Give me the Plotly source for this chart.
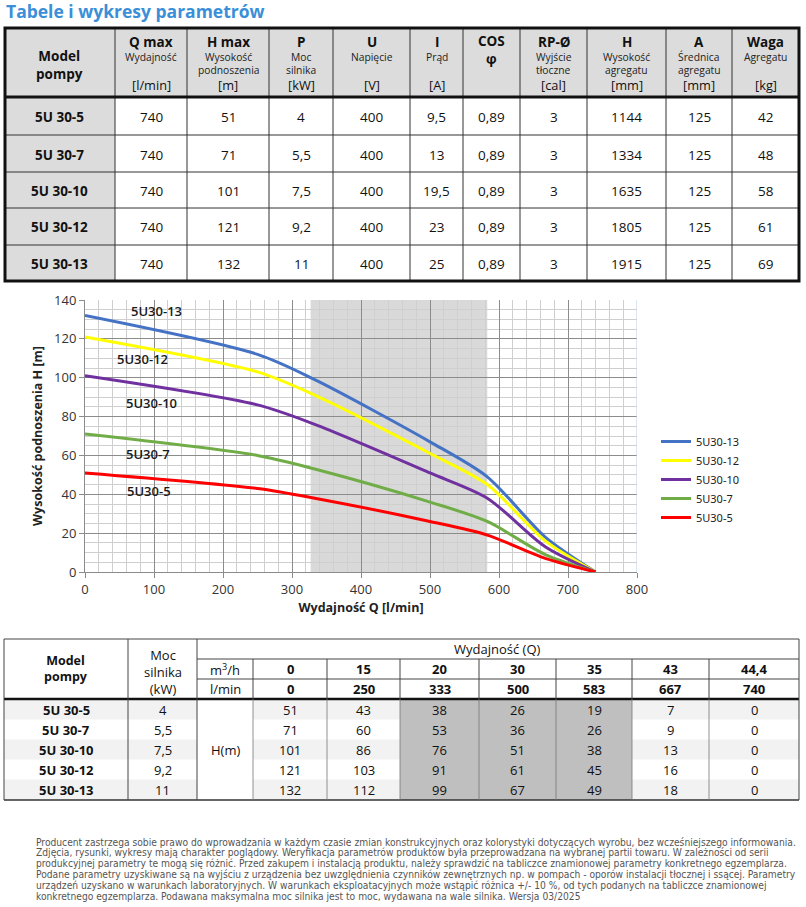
import plotly.graph_objects as go

W, H = 806, 907

# ---------------- data ----------------
title_text = "Tabele i wykresy parametrów"

models = ["5U 30-5", "5U 30-7", "5U 30-10", "5U 30-12", "5U 30-13"]
q_max = ["740", "740", "740", "740", "740"]
h_max = ["51", "71", "101", "121", "132"]
power = ["4", "5,5", "7,5", "9,2", "11"]
voltage = ["400", "400", "400", "400", "400"]
current = ["9,5", "13", "19,5", "23", "25"]
cos_phi = ["0,89", "0,89", "0,89", "0,89", "0,89"]
outlet = ["3", "3", "3", "3", "3"]
unit_height = ["1144", "1334", "1635", "1805", "1915"]
diameter = ["125", "125", "125", "125", "125"]
weight = ["42", "48", "58", "61", "69"]

header_titles = ["", "Q max", "H max", "P", "U", "I", "COS", "RP-Ø", "H", "A", "Waga"]
header_subs = [[], ["Wydajność"], ["Wysokość", "podnoszenia"], ["Moc", "silnika"], ["Napięcie"],
               ["Prąd"], [], ["Wyjście", "tłoczne"], ["Wysokość", "agregatu"],
               ["Średnica", "agregatu"], ["Agregatu"]]
header_units = ["", "[l/min]", "[m]", "[kW]", "[V]", "[A]", "", "[cal]", "[mm]", "[mm]", "[kg]"]

flow_m3h = ["0", "15", "20", "30", "35", "43", "44,4"]
flow_lmin = [0, 250, 333, 500, 583, 667, 740]
head_5 = [51, 43, 38, 26, 19, 7, 0]
head_7 = [71, 60, 53, 36, 26, 9, 0]
head_10 = [101, 86, 76, 51, 38, 13, 0]
head_12 = [121, 103, 91, 61, 45, 16, 0]
head_13 = [132, 112, 99, 67, 49, 18, 0]
shaded_cols = [2, 3, 4]

series_names = ["5U30-13", "5U30-12", "5U30-10", "5U30-7", "5U30-5"]
series_heads = [head_13, head_12, head_10, head_7, head_5]
series_colors = ["#4472c4", "#ffff00", "#7030a0", "#70ad47", "#ff0000"]
label_pos = [(104, 134.5), (84, 109.6), (97, 87.1), (92, 60.7), (93, 41.8)]
band_q = [327, 583]

footer_lines = [
    "Producent zastrzega sobie prawo do wprowadzania w każdym czasie zmian konstrukcyjnych oraz kolorystyki dotyczących wyrobu, bez wcześniejszego informowania.",
    "Zdjęcia, rysunki, wykresy mają charakter poglądowy. Weryfikacja parametrów produktów była przeprowadzana na wybranej partii towaru. W zależności od serii",
    "produkcyjnej parametry te mogą się różnić. Przed zakupem i instalacją produktu, należy sprawdzić na tabliczce znamionowej parametry konkretnego egzemplarza.",
    "Podane parametry uzyskiwane są na wyjściu z urządzenia bez uwzględnienia czynników zewnętrznych np. w pompach - oporów instalacji tłocznej i ssącej. Parametry",
    "urządzeń uzyskano w warunkach laboratoryjnych. W warunkach eksploatacyjnych może wstąpić różnica +/- 10 %, od tych podanych na tabliczce znamionowej",
    "konkretnego egzemplarza. Podawana maksymalna moc silnika jest to moc, wydawana na wale silnika. Wersja 03/2025",
]

# ---------------- helpers ----------------
FONT = "Open Sans"
shapes = []
annots = []


def X(px):
    return px / W


def Y(py):
    return 1 - py / H


def rect(x0, y0, x1, y1, fill, lw=0, lc="rgba(0,0,0,0)"):
    shapes.append(dict(type="rect", xref="paper", yref="paper", x0=X(x0), x1=X(x1),
                       y0=Y(y0), y1=Y(y1), fillcolor=fill, line=dict(width=lw, color=lc),
                       layer="below"))


def line(x0, y0, x1, y1, w=1, c="#333"):
    shapes.append(dict(type="line", xref="paper", yref="paper", x0=X(x0), x1=X(x1),
                       y0=Y(y0), y1=Y(y1), line=dict(width=w, color=c)))


def text(x, y, s, size=13, color="#111", xanchor="center", family=FONT, bold=False, wt=None):
    if bold:
        s = "<b>" + s.replace("<br>", "</b><br><b>") + "</b>"
    f = dict(size=size, color=color, family=family)
    if wt:
        f["weight"] = wt
    annots.append(dict(xref="paper", yref="paper", x=X(x), y=Y(y), text=s, showarrow=False,
                       xanchor=xanchor, yanchor="middle", align="center", font=f))


# ---------------- title ----------------
text(4, 11, title_text, size=17.5, color="#3b8fd8", xanchor="left", bold=True)

# ---------------- top table ----------------
tcols = [5, 115, 187, 269, 333, 410, 463, 520, 587, 666, 732, 799]
t_top, t_head, t_bot = 28, 97, 281
trows = [97, 135, 172, 208, 245, 281]

rect(tcols[0], t_top, tcols[-1], t_head, "#dcdcdc")
rect(tcols[0], t_head, tcols[1], t_bot, "#dcdcdc")
for xc in tcols[1:-1]:
    line(xc, t_top, xc, t_bot, 1, "#333")
for yr in trows[1:-1]:
    line(tcols[0], yr, tcols[-1], yr, 1, "#333")
line(tcols[0], t_head, tcols[-1], t_head, 3, "#111")
shapes.append(dict(type="rect", xref="paper", yref="paper", x0=X(tcols[0]), x1=X(tcols[-1]),
                   y0=Y(t_top), y1=Y(t_bot), line=dict(width=3, color="#111")))

text((tcols[0] + tcols[1]) / 2, 64.5, "Model<br>pompy", size=13.5, bold=True)
for i in range(1, len(tcols) - 1):
    cx = (tcols[i] + tcols[i + 1]) / 2
    if header_titles[i] == "COS":
        text(cx, 50, "COS<br>φ", size=13.5, bold=True)
        continue
    text(cx, 42, header_titles[i], size=13.5, bold=True)
    subs = header_subs[i]
    if len(subs) == 1:
        text(cx, 57, subs[0], size=10.3, color="#222")
    elif len(subs) == 2:
        text(cx, 57, subs[0], size=10.3, color="#222")
        text(cx, 70.5, subs[1], size=10.3, color="#222")
    if header_units[i]:
        text(cx, 85.5, header_units[i], size=12.8, color="#111")

top_columns = [models, q_max, h_max, power, voltage, current, cos_phi, outlet,
               unit_height, diameter, weight]
for r in range(len(models)):
    cy = (trows[r] + trows[r + 1]) / 2 + 1
    for c, col in enumerate(top_columns):
        cx = (tcols[c] + tcols[c + 1]) / 2
        if c == 0:
            text(cx, cy, col[r], size=13.5, bold=True, color="#111")
        else:
            text(cx, cy, col[r], size=13.5, color="#111", wt=500)

# ---------------- chart ----------------
fig = go.Figure()
shapes.append(dict(type="rect", xref="x", yref="y", x0=band_q[0], x1=band_q[1], y0=0, y1=140,
                   fillcolor="#d9d9d9", line=dict(width=0), layer="below"))
shapes.append(dict(type="line", xref="x", yref="y", x0=800, x1=800, y0=0, y1=140,
                   line=dict(width=1, color="#b8cce4")))

for name, ys, col in zip(series_names, series_heads, series_colors):
    fig.add_trace(go.Scatter(x=flow_lmin, y=ys, mode="lines", name=name,
                             line=dict(color=col, width=3, shape="spline", smoothing=0.8)))

for name, (lx, ly) in zip(series_names, label_pos):
    annots.append(dict(xref="x", yref="y", x=lx, y=ly, text=name, showarrow=False,
                       xanchor="center", yanchor="middle",
                       font=dict(size=13, color="#1a1a1a", family=FONT, weight=600)))

# ---------------- bottom table ----------------
bcols = [4, 128, 197, 253, 327, 400, 479, 556, 632, 709, 799]
bh = [639, 659, 679, 699]
brows = [699, 719.5, 739.5, 759.5, 779.5, 800]

for r in range(5):
    y0, y1 = brows[r], brows[r + 1]
    if r % 2 == 0:
        rect(bcols[0], y0, bcols[2], y1, "#f2f2f2")
        rect(bcols[3], y0, bcols[-1], y1, "#f2f2f2")
rect(bcols[3 + shaded_cols[0]], brows[0], bcols[3 + shaded_cols[-1] + 1], brows[-1], "#bfbfbf")

line(bcols[0], bh[0], bcols[-1], bh[0], 1, "#444")
line(bcols[2], bh[1], bcols[-1], bh[1], 1, "#444")
line(bcols[2], bh[2], bcols[-1], bh[2], 1, "#444")
line(bcols[0], bh[3], bcols[-1], bh[3], 2.5, "#111")
line(bcols[0], brows[-1], bcols[-1], brows[-1], 1.5, "#333")
for xc in [bcols[0], bcols[1], bcols[2], bcols[-1]]:
    line(xc, bh[0], xc, brows[-1], 1, "#444")
for xc in bcols[3:-1]:
    line(xc, bh[1], xc, bh[3], 1, "#444")
    line(xc, brows[0], xc, brows[-1], 0.8, "#777")

mx = (bcols[0] + bcols[1]) / 2
text(mx, 668.5, "Model<br>pompy", size=12.5, bold=True)
px_ = (bcols[1] + bcols[2]) / 2
text(px_, 671.5, "Moc<br>silnika<br>(kW)", size=13, color="#111")
text((bcols[2] + bcols[-1]) / 2, 649, "Wydajność (Q)", size=13, color="#111")
text((bcols[2] + bcols[3]) / 2, 669, "m<sup>3</sup>/h", size=13, color="#111")
text((bcols[2] + bcols[3]) / 2, 689, "l/min", size=13, color="#111")
text((bcols[2] + bcols[3]) / 2, 750, "H(m)", size=13, color="#111")
for j in range(len(flow_m3h)):
    cx = (bcols[3 + j] + bcols[4 + j]) / 2
    text(cx, 669, flow_m3h[j], size=13, bold=True)
    text(cx, 689, str(flow_lmin[j]), size=13, bold=True)

bottom_heads = [head_5, head_7, head_10, head_12, head_13]
for r in range(5):
    cy = (brows[r] + brows[r + 1]) / 2 + 0.5
    text((bcols[0] + bcols[1]) / 2, cy, models[r], size=13, bold=True)
    text((bcols[1] + bcols[2]) / 2, cy, power[r], size=13, wt=500)
    for j, v in enumerate(bottom_heads[r]):
        cx = (bcols[3 + j] + bcols[4 + j]) / 2
        text(cx, cy, str(v), size=13, wt=500)

# ---------------- footer ----------------
for i, ln in enumerate(footer_lines):
    text(34, 842 + 10.8 * i, ln, size=10.2, color="#555", xanchor="left",
         family="Liberation Sans Narrow, DejaVu Sans Condensed, Arial Narrow")

# ---------------- layout ----------------
fig.update_layout(
    template="none",
    width=W, height=H, autosize=False,
    margin=dict(l=0, r=0, t=0, b=0, pad=0, autoexpand=False),
    paper_bgcolor="white", plot_bgcolor="white",
    font=dict(family=FONT, color="#333"),
    shapes=shapes, annotations=annots,
    showlegend=True,
    legend=dict(x=X(656), y=Y(427), xanchor="left", yanchor="top",
                font=dict(size=11, color="#222", family="Noto Sans"),
                bgcolor="rgba(0,0,0,0)", tracegroupgap=0, itemwidth=30),
    xaxis=dict(domain=[X(85), X(637)], range=[0, 800], dtick=100, tick0=0, automargin=False,
               showgrid=True, gridcolor="#8c8c8c", gridwidth=1,
               minor=dict(dtick=20, showgrid=True, gridcolor="#cfcfcf", gridwidth=1),
               showline=True, linecolor="#8c8c8c", ticks="outside", ticklen=5, tickcolor="#8c8c8c",
               tickfont=dict(size=13, color="#333"), zeroline=False, anchor="y",
               title=dict(text="<b>Wydajność Q [l/min]</b>", font=dict(size=12.5, color="#222"), standoff=6)),
    yaxis=dict(domain=[Y(572), Y(300)], range=[0, 140], dtick=20, tick0=0, automargin=False,
               showgrid=True, gridcolor="#8c8c8c", gridwidth=1,
               minor=dict(dtick=5, showgrid=True, gridcolor="#cfcfcf", gridwidth=1),
               showline=True, linecolor="#8c8c8c", ticks="outside", ticklen=5, tickcolor="#8c8c8c",
               tickfont=dict(size=13, color="#333"), zeroline=False, anchor="x",
               title=dict(text="<b>Wysokość podnoszenia H [m]</b>", font=dict(size=12.5, color="#222"), standoff=8)),
)

fig.write_html("out.html", config={"displayModeBar": False},
               post_script="document.body.style.margin='0px';document.body.style.overflow='hidden';")
